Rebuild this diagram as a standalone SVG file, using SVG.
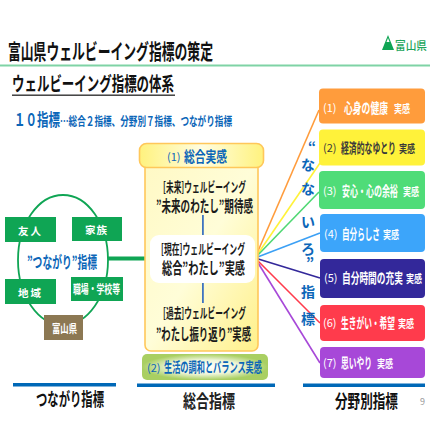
<svg xmlns="http://www.w3.org/2000/svg" width="430" height="430" viewBox="0 0 430 430">
<style>
text{font-family:"Noto Sans CJK JP","Noto Sans",sans-serif;font-weight:700}
.w{fill:#fff}.b{fill:#0b66b8}.k{fill:#1a1a1a}.d{fill:#3a3a3a}
.sq{fill:#0fa554}
.bar{fill:#0068b7}
.c{fill:none;stroke-width:1.6}
.n{font-size:11px;font-weight:400}
.l{font-size:14px}
.s{font-size:11px}
</style>
<defs>
<linearGradient id="pil" x1="0" y1="0" x2="1" y2="1"><stop offset="0" stop-color="#fff9c4"/><stop offset="0.5" stop-color="#fffdd8"/><stop offset="1" stop-color="#fff08a"/></linearGradient>
<linearGradient id="cap" x1="0" y1="0" x2="1" y2="0"><stop offset="0" stop-color="#fff27e"/><stop offset="0.5" stop-color="#fffde0"/><stop offset="1" stop-color="#fff27e"/></linearGradient>
<radialGradient id="grn"><stop offset="0" stop-color="#ffffff"/><stop offset="0.55" stop-color="#eef5d8"/><stop offset="1" stop-color="#a9cf62"/></radialGradient>
</defs>
<rect width="430" height="430" fill="#fff"/>
<g id="header">
<text x="8" y="58.500" font-size="21" textLength="205" lengthAdjust="spacingAndGlyphs" fill="#111">富山県ウェルビーイング指標の策定</text>
<rect x="0" y="64.500" width="430" height="2" fill="#7fd3a5"/>
<text x="12" y="91" font-size="19.500" textLength="162" lengthAdjust="spacingAndGlyphs" fill="#111">ウェルビーイング指標の体系</text>
<rect x="12" y="94.500" width="163" height="1.400" fill="#333"/>
<text transform="translate(14 126) scale(.676 1)" font-size="17" class="b">１０指標</text>
<text x="60" y="125.500" font-size="12.500" textLength="172" lengthAdjust="spacingAndGlyphs" class="b">…総合２指標、分野別７指標、つながり指標</text>
</g>
<g id="logo">
<path d="M388 35l6 15h-12z" fill="#0fa554"/><path d="M388 38l1.500 4h-3z" fill="#fff"/>
<text x="395" y="50" font-size="11.500" textLength="32" lengthAdjust="spacingAndGlyphs" fill="#1ca55c" style="font-weight:500">富山県</text>
</g>
<g id="connectors">
<ellipse cx="63" cy="260" rx="45" ry="65" fill="none" stroke="#0fa554" stroke-width="1.800"/>
<rect x="108" y="256.500" width="42" height="4" fill="#0fa554"/>
<path class="c" stroke="#ff9c3c" d="M255 258L319 110"/>
<path class="c" stroke="#fff23a" d="M255 258L320 163"/>
<path class="c" stroke="#4fd873" d="M255 258L319 192"/>
<path class="c" stroke="#3ca0f5" d="M255 258L320 233"/>
<path class="c" stroke="#33289a" d="M255 258L320 278"/>
<path class="c" stroke="#ff3b4c" d="M255 258L320 323"/>
<path class="c" stroke="#a748d8" d="M255 258L320 363"/>
</g>
<g id="pillar">
<rect x="145" y="160" width="113" height="191" rx="6" fill="url(#pil)" stroke="#ffc75a" stroke-width="1.600"/>
<rect x="139.500" y="143.500" width="124" height="24" rx="7" fill="url(#cap)" stroke="#ffc75a" stroke-width="1.600"/>
<text x="167" y="161" class="n b">(1)</text>
<text transform="translate(184 161.500) scale(.72 1)" font-size="15" class="b">総合実感</text>
<rect x="202" y="215" width="1.800" height="20" fill="#3f74c0"/>
<rect x="202" y="283" width="1.800" height="20" fill="#3f74c0"/>
<text x="163" y="192" font-size="13.500" textLength="83" lengthAdjust="spacingAndGlyphs" class="k">[未来]ウェルビーイング</text>
<text x="156" y="212" font-size="15.500" textLength="97" lengthAdjust="spacingAndGlyphs" class="k">”未来のわたし”期待感</text>
<rect x="150" y="235" width="105" height="48" rx="9" fill="#fff"/>
<text x="161" y="254" font-size="13.500" textLength="84" lengthAdjust="spacingAndGlyphs" class="k">[現在]ウェルビーイング</text>
<text x="162" y="274" font-size="15.500" textLength="83" lengthAdjust="spacingAndGlyphs" class="k">総合”わたし”実感</text>
<text x="163" y="318" font-size="13.500" textLength="83" lengthAdjust="spacingAndGlyphs" class="k">[過去]ウェルビーイング</text>
<text x="156" y="340" font-size="15.500" textLength="95" lengthAdjust="spacingAndGlyphs" class="k">”わたし振り返り”実感</text>
</g>
<g id="harmony">
<rect x="142" y="354" width="126" height="26" rx="5" fill="url(#grn)"/>
<text x="147" y="371.500" class="n b">(2)</text>
<text transform="translate(164 372) scale(.585 1)" font-size="14" class="b">生活の調和とバランス実感</text>
</g>
<g id="yujin"><rect class="sq" x="5" y="217" width="51" height="25"/><text x="18" y="235" font-size="10.500" class="w" textLength="23" lengthAdjust="spacing">友人</text></g>
<g id="kazoku"><rect class="sq" x="72" y="217" width="50" height="24"/><text x="85" y="234" font-size="10.500" class="w" textLength="22" lengthAdjust="spacing">家族</text></g>
<g id="chiiki"><rect class="sq" x="5" y="279" width="51" height="25"/><text x="18" y="297" font-size="10.500" class="w" textLength="23" lengthAdjust="spacing">地域</text></g>
<g id="shokuba"><rect class="sq" x="71" y="277" width="52" height="24"/><text x="73" y="294" font-size="12" class="w" textLength="47" lengthAdjust="spacingAndGlyphs">職場・学校等</text></g>
<g id="toyama"><rect x="44" y="315" width="39" height="25" fill="#8c7853"/><text x="52" y="332.500" font-size="11.500" class="w" textLength="25" lengthAdjust="spacingAndGlyphs">富山県</text></g>
<text x="27" y="268" font-size="16" textLength="70" lengthAdjust="spacingAndGlyphs" class="b">”つながり”指標</text>
<g id="nanairo">
<text font-size="14" class="b" text-anchor="middle" x="312 308 308 308 308 310 308 308" y="152 170 194 227 254 268 297 324">“なないろ”指標</text>
</g>
<g id="i1"><rect x="319" y="88.500" width="106" height="35" rx="4" fill="#ff9c3c"/><text x="323" y="112" class="n w">(1)</text><text transform="translate(344 113) scale(.629 1)" class="l w">心身の健康</text><text transform="translate(394 113) scale(.73 1)" class="s w">実感</text></g>
<g id="i2"><rect x="319" y="129.500" width="106" height="36" rx="4" fill="#fff23a"/><text x="323" y="152" class="n d">(2)</text><text transform="translate(341 153) scale(.561 1)" class="l d">経済的なゆとり</text><text transform="translate(399 153) scale(.73 1)" class="s d">実感</text></g>
<g id="i3"><rect x="319" y="171" width="106" height="38" rx="4" fill="#4fdc78"/><text x="323" y="195" class="n w">(3)</text><text transform="translate(342 196) scale(.571 1)" class="l w">安心・心の余裕</text><text transform="translate(403 196) scale(.73 1)" class="s w">実感</text></g>
<g id="i4"><rect x="320" y="214" width="105" height="38" rx="4" fill="#3ca5fa"/><text x="324" y="238" class="n w">(4)</text><text transform="translate(342 239) scale(.543 1)" class="l w">自分らしさ</text><text transform="translate(383 239) scale(.73 1)" class="s w">実感</text></g>
<g id="i5"><rect x="320" y="259" width="105" height="39" rx="4" fill="#33289a"/><text x="324" y="282" class="n w">(5)</text><text transform="translate(342 283) scale(.622 1)" class="l w">自分時間の充実</text><text transform="translate(406 283) scale(.73 1)" class="s w">実感</text></g>
<g id="i6"><rect x="320" y="305" width="105" height="36" rx="4" fill="#ff3b4c"/><text x="323" y="327" class="n w">(6)</text><text transform="translate(341 328) scale(.551 1)" class="l w">生きがい・希望</text><text transform="translate(398 328) scale(.73 1)" class="s w">実感</text></g>
<g id="i7"><rect x="320" y="347" width="105" height="31" rx="4" fill="#a748d8"/><text x="323" y="367" class="n w">(7)</text><text transform="translate(341 368) scale(.554 1)" class="l w">思いやり</text><text transform="translate(377 368) scale(.73 1)" class="s w">実感</text></g>
<g id="footer">
<rect class="bar" x="13" y="383" width="103" height="3.500"/>
<rect class="bar" x="137" y="383.500" width="138" height="3.500"/>
<rect class="bar" x="303" y="383.500" width="122" height="3.500"/>
<text x="36" y="406" font-size="18" textLength="68" lengthAdjust="spacingAndGlyphs" fill="#111">つながり指標</text>
<text x="183" y="408" font-size="18" textLength="52" lengthAdjust="spacingAndGlyphs" fill="#222">総合指標</text>
<text transform="translate(335 408) scale(.7 1)" font-size="18" fill="#111">分野別指標</text>
<text x="420" y="405" font-size="9" fill="#999" style="font-weight:400">9</text>
</g>
</svg>
